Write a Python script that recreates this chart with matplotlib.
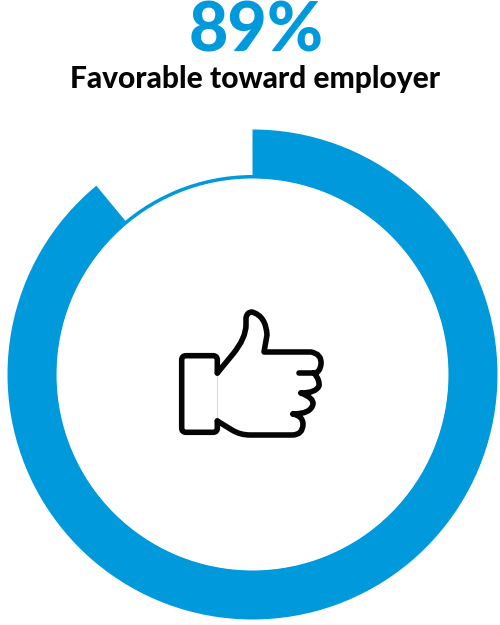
"""Donut gauge: 89% favorable toward employer, with a thumbs-up icon in the middle."""

import matplotlib
matplotlib.use("Agg")
import matplotlib.pyplot as plt
from matplotlib.patches import PathPatch
from matplotlib.path import Path

BLUE = "#009ADC"
INK = "#050505"

VALUE_LABEL = "89%"
CAPTION = "Favorable toward employer"
VALUES = [89, 11]

M, L, Q, Z = Path.MOVETO, Path.LINETO, Path.CURVE3, Path.CLOSEPOLY

# thumb outline, in image pixels
CUFF = [
    (M, 217.3, 373), (L, 217.3, 360), (Q, 217.3, 355.7), (Q, 213, 355.7),
    (L, 186, 355.7), (Q, 181.7, 355.7), (Q, 181.7, 360), (L, 181.7, 428),
    (Q, 181.7, 432.3), (Q, 186, 432.3), (L, 213, 432.3), (Q, 217.3, 432.3),
    (Q, 217.3, 428), (L, 217.3, 421),
]
HAND = [
    (M, 217.3, 373), (L, 233, 354), (Q, 246, 338), (Q, 246, 325),
    (L, 246, 318), (Q, 247, 312), (Q, 252, 312), (Q, 266, 316), (Q, 267, 335),
    (L, 264, 352), (L, 311, 352), (Q, 322, 354), (Q, 321, 364),
    (Q, 320, 373), (Q, 314, 373), (L, 299, 373),
    (M, 314, 373), (Q, 320, 380), (Q, 319, 386), (Q, 316, 393), (Q, 301, 393),
    (M, 301, 393), (Q, 314, 398), (Q, 313, 404), (Q, 311, 414), (Q, 293, 414),
    (M, 293, 414), (Q, 303, 416), (Q, 303, 424), (Q, 303, 435), (Q, 292, 435),
    (L, 250, 435), (Q, 240, 435), (Q, 232, 430), (L, 217.3, 421),
]


def to_path(rows):
    codes = [r[0] for r in rows]
    verts = [(r[1], 625 - r[2]) for r in rows]
    return Path(verts, codes)


def main():
    fig = plt.figure(figsize=(5, 6.25), dpi=100)
    ax = fig.add_axes([0, 0, 1, 1])

    center = (252.5, 250.5)
    # thin full ring underneath, thick arc on top
    ax.pie([1], radius=199.5, center=center, startangle=90, colors=[BLUE],
           wedgeprops={"width": 3.5, "linewidth": 0})
    ax.pie(VALUES, radius=245, center=center, startangle=90, counterclock=False,
           colors=[BLUE, "none"], wedgeprops={"width": 48.5, "linewidth": 0})
    ax.set_xlim(0, 500)
    ax.set_ylim(0, 625)
    ax.axis("off")

    ax.plot([217.3, 217.3], [625 - 373, 625 - 421], color="#d9d9d9", lw=0.7, zorder=3)
    for rows in (CUFF, HAND):
        ax.add_patch(PathPatch(to_path(rows), facecolor="none", edgecolor=INK,
                               lw=4, capstyle="round", joinstyle="round", zorder=4))

    ax.text(256, 625 - 52, VALUE_LABEL, color=BLUE, fontsize=49, fontfamily="Lato",
            fontweight="black", ha="center", va="baseline")
    ax.text(255.5, 625 - 88, CAPTION, color=INK, fontsize=21.5, fontfamily="Lato",
            fontweight="black", ha="center", va="baseline")

    fig.savefig("out.png", dpi=100)
    plt.close(fig)


if __name__ == "__main__":
    main()
